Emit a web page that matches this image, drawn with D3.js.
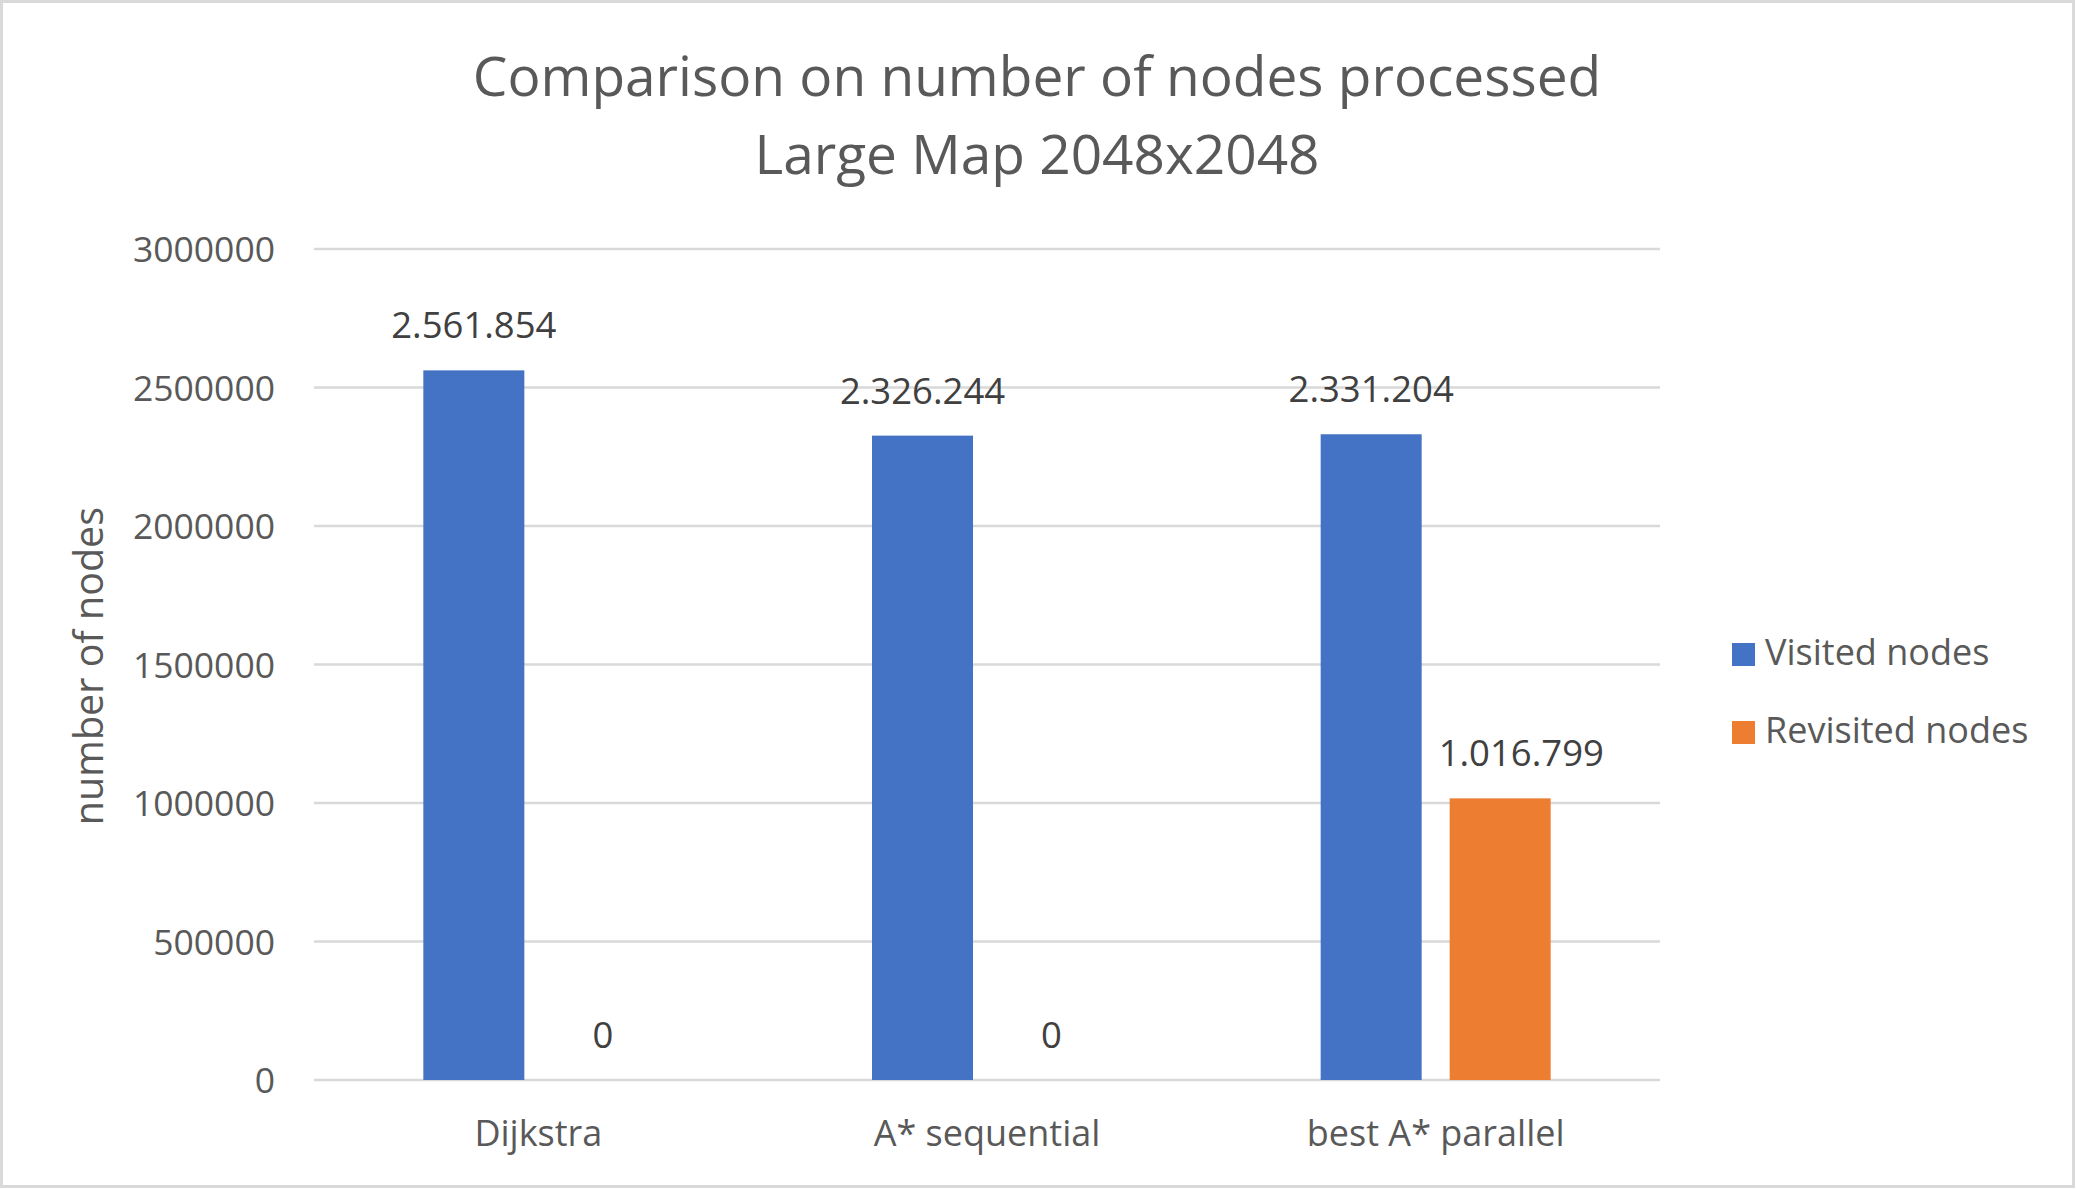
<!DOCTYPE html>
<html>
<head>
<meta charset="utf-8">
<script src="https://cdn.jsdelivr.net/npm/d3@7"></script>
<style>
  html, body { margin: 0; padding: 0; background: #fff; }
  svg { display: block; font-family: "Open Sans", "Noto Sans", sans-serif; }
</style>
</head>
<body>
<svg id="chart" width="2076" height="1189"></svg>
<script>
const categories = ["Dijkstra", "A* sequential", "best A* parallel"];
const seriesNames = ["Visited nodes", "Revisited nodes"];
const visitedNodes = [2561854, 2326244, 2331204];
const revisitedNodes = [0, 0, 1016799];
const yTicks = [0, 500000, 1000000, 1500000, 2000000, 2500000, 3000000];
const titleLines = ["Comparison on number of nodes processed", "Large Map 2048x2048"];
const colors = ["#4472C4", "#ED7D31"];

const svg = d3.select("#chart");
const W = 2076, H = 1189;
const m = { left: 314, right: W - 1660, top: 249, bottom: H - 1080 };

svg.append("rect").attr("x", 1.5).attr("y", 1.5).attr("width", W - 4).attr("height", H - 4)
  .attr("fill", "#fff").attr("stroke", "#d9d9d9").attr("stroke-width", 3);

const x0 = d3.scaleBand().domain(categories).range([m.left, W - m.right]).paddingInner(0).paddingOuter(0);
const x1 = d3.scaleBand().domain(seriesNames).range([-115, 115]).paddingInner(0.217).paddingOuter(0);
const y = d3.scaleLinear().domain([0, 3000000]).range([H - m.bottom, m.top]);

// gridlines
svg.append("g").selectAll("line").data(yTicks).join("line")
  .attr("x1", m.left).attr("x2", W - m.right)
  .attr("y1", d => y(d)).attr("y2", d => y(d))
  .attr("stroke", "#d9d9d9").attr("stroke-width", 2.5);

// y tick labels
const yAxis = d3.axisLeft(y).tickValues(yTicks).tickSize(0).tickPadding(0).tickFormat(d3.format("d"));
const gy = svg.append("g").attr("transform", `translate(275,0)`).call(yAxis);
gy.select(".domain").remove();
gy.selectAll("text").attr("fill", "#595959").attr("font-size", 35.5).attr("font-family", "Open Sans").attr("dy", "0.36em");

// x category labels
const xAxis = d3.axisBottom(x0).tickSize(0).tickPadding(0);
const gx = svg.append("g").attr("transform", `translate(0,1146)`).call(xAxis);
gx.select(".domain").remove();
gx.selectAll("text").attr("fill", "#595959").attr("font-size", 36).attr("font-family", "Open Sans").attr("dy", 0);

// bars
const data = categories.map((c, i) => ({ cat: c, vals: [visitedNodes[i], revisitedNodes[i]] }));
const groups = svg.append("g").selectAll("g").data(data).join("g")
  .attr("transform", d => `translate(${x0(d.cat) + x0.bandwidth() / 2},0)`);
groups.selectAll("rect").data(d => d.vals.map((v, j) => ({ s: seriesNames[j], v, j }))).join("rect")
  .attr("x", d => x1(d.s)).attr("width", x1.bandwidth())
  .attr("y", d => y(d.v)).attr("height", d => y(0) - y(d.v))
  .attr("fill", d => colors[d.j]);
const fmt = v => d3.format(",")(v).replace(/,/g, ".");
groups.each(function (g) {
  const grp = d3.select(this);
  const items = g.vals.map((v, j) => ({ s: seriesNames[j], v, j }));
  items.forEach(d => {
    const t = grp.append("text")
      .attr("x", x1(d.s) + x1.bandwidth() / 2).attr("y", y(d.v) - 32)
      .attr("text-anchor", "middle").attr("font-size", 36.5).attr("fill", "#404040")
      .text(fmt(d.v));
    // avoid overlapping the taller neighbouring bar on the left
    if (d.j > 0) {
      const prev = items[d.j - 1];
      const w = t.node().getComputedTextLength();
      const left = x1(d.s) + x1.bandwidth() / 2 - w / 2;
      const prevRight = x1(prev.s) + x1.bandwidth();
      const clear = prevRight + 17;
      if (y(prev.v) < y(d.v) - 32 && left < clear && d.v > 0) {
        t.attr("x", clear + w / 2);
      }
    }
  });
});

// y axis title
svg.append("text").attr("transform", "translate(103,666) rotate(-90)")
  .attr("text-anchor", "middle").attr("font-size", 39.5).attr("fill", "#595959")
  .text("number of nodes");

// title
svg.append("g").selectAll("text").data(titleLines).join("text")
  .attr("x", 1037).attr("y", (d, i) => 96 + i * 78)
  .attr("text-anchor", "middle").attr("font-size", 55).attr("fill", "#595959")
  .text(d => d);

// legend
const lg = svg.append("g").selectAll("g").data(seriesNames).join("g")
  .attr("transform", (d, i) => `translate(1732,${643 + i * 78})`);
lg.append("rect").attr("width", 23).attr("height", 23).attr("fill", (d, i) => colors[i]);
lg.append("text").attr("x", 33).attr("y", 22).attr("font-size", 36).attr("fill", "#595959").text(d => d);
</script>
</body>
</html>
